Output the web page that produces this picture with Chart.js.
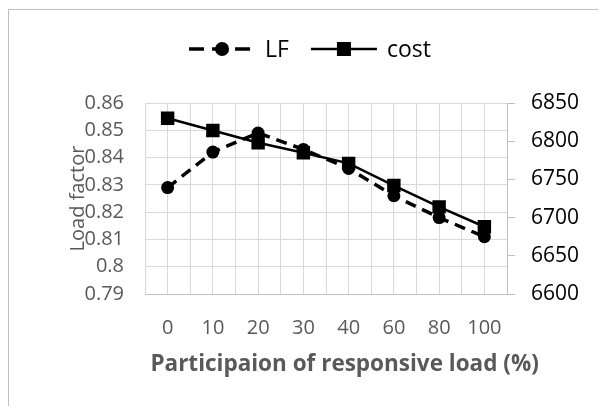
<!DOCTYPE html>
<html>
<head>
<meta charset="utf-8">
<script src="https://cdn.jsdelivr.net/npm/chart.js@4.4.0/dist/chart.umd.min.js"></script>
<style>
  html, body { margin: 0; padding: 0; background: #fff; overflow: hidden; }
  #wrap { position: relative; width: 598px; height: 406px; }
  #moldura { position: absolute; left: 8px; top: 9px; width: 640px; height: 440px; border: 1px solid #bfbfbf; box-sizing: border-box; }
  canvas { position: absolute; left: 0; top: 0; }
</style>
</head>
<body>
<div id="wrap">
  <div id="moldura"></div>
  <canvas id="grafico" width="598" height="406"></canvas>
</div>
<script>
const categorias = ['0', '10', '20', '30', '40', '60', '80', '100'];
const valoresLF = [0.829, 0.842, 0.849, 0.843, 0.836, 0.826, 0.818, 0.811];
const valoresCusto = [6830, 6814, 6798, 6785, 6771, 6742, 6714, 6688];
const limitesLF = [0.79, 0.86];
const limitesCusto = [6600, 6850];

const fonte = '"Open Sans", "Noto Sans", sans-serif';
const cinza = '#595959';
const grade = '#d9d9d9';

// legenda desenhada a mao: linha + marcador + texto
const legendaLinha = {
  id: 'legendaLinha',
  afterDraw(chart) {
    const ctx = chart.ctx;
    const y = 49;
    const compLinha = 66;
    ctx.save();
    ctx.font = '23px ' + fonte;
    const itens = chart.data.datasets;
    let total = 0;
    itens.forEach((d, i) => {
      total += compLinha + 10 + ctx.measureText(d.label).width;
      if (i < itens.length - 1) total += 22;
    });
    let x = chart.width / 2 + 11 - total / 2;
    itens.forEach((d) => {
      ctx.strokeStyle = d.borderColor;
      ctx.lineWidth = d.borderWidth;
      ctx.setLineDash(d.borderDash ? [15, 8] : []);
      ctx.beginPath();
      ctx.moveTo(x, y);
      ctx.lineTo(x + compLinha, y);
      ctx.stroke();
      ctx.setLineDash([]);
      ctx.fillStyle = d.pointBackgroundColor;
      const cx = x + compLinha / 2;
      if (d.pointStyle === 'rect') {
        ctx.fillRect(cx - 7, y - 7, 14, 14);
      } else {
        ctx.beginPath();
        ctx.arc(cx, y, 7, 0, Math.PI * 2);
        ctx.fill();
      }
      ctx.fillStyle = '#000';
      ctx.textBaseline = 'middle';
      ctx.fillText(d.label, x + compLinha + 10, y + 1);
      x += compLinha + 10 + ctx.measureText(d.label).width + 22;
    });
    ctx.restore();
  }
};

new Chart(document.getElementById('grafico'), {
  type: 'line',
  data: {
    labels: categorias,
    datasets: [{
      label: 'LF',
      data: valoresLF,
      yAxisID: 'y',
      borderColor: '#000',
      borderWidth: 3.5,
      borderDash: [11, 7],
      pointStyle: 'circle',
      pointRadius: 6.5,
      pointBackgroundColor: '#000',
      pointBorderWidth: 0,
      tension: 0
    }, {
      label: 'cost',
      data: valoresCusto,
      yAxisID: 'y2',
      borderColor: '#000',
      borderWidth: 2.5,
      pointStyle: 'rect',
      pointRadius: 9.5,
      pointBackgroundColor: '#000',
      pointBorderWidth: 0,
      tension: 0
    }]
  },
  options: {
    responsive: false,
    devicePixelRatio: 1,
    animation: false,
    layout: { padding: { left: 62, top: 103, right: 0, bottom: 22 } },
    plugins: {
      legend: { display: false },
      tooltip: { enabled: false },
      title: {
        display: true,
        position: 'bottom',
        text: ' '.repeat(5) + 'Participaion of responsive load (%)',
        color: cinza,
        font: { family: fonte, size: 22.5, weight: 'bold' },
        padding: { top: 0, bottom: 6 }
      }
    },
    scales: {
      x: {
        type: 'category',
        offset: true,
        grid: { offset: false, color: grade, drawTicks: false },
        border: { display: true, color: '#bfbfbf' },
        ticks: { color: cinza, font: { family: fonte, size: 20 }, padding: 22 },
        afterFit: s => { s.height = 57; }
      },
      // grade nas divisas entre categorias
      x2: {
        type: 'linear',
        position: 'top',
        min: 0,
        max: categorias.length,
        ticks: { display: false, stepSize: 1 },
        grid: { color: grade, drawTicks: false },
        border: { display: false },
        afterFit: s => { s.height = 0; }
      },
      y: {
        position: 'left',
        min: limitesLF[0],
        max: limitesLF[1],
        ticks: {
          stepSize: 0.01,
          color: cinza,
          font: { family: fonte, size: 20 },
          padding: 21,
          callback: v => String(Math.round(v * 100) / 100)
        },
        grid: { color: grade, drawTicks: false },
        border: { display: false },
        title: {
          display: true,
          text: 'Load factor',
          color: cinza,
          font: { family: fonte, size: 20 },
          padding: { top: 4, bottom: 0 }
        },
        afterFit: s => { s.width = 83; }
      },
      y2: {
        position: 'right',
        min: limitesCusto[0],
        max: limitesCusto[1],
        ticks: {
          stepSize: 50,
          color: '#000',
          font: { family: fonte, size: 21 },
          padding: 16,
          callback: v => String(v)
        },
        grid: { drawOnChartArea: false, color: '#bfbfbf', tickLength: 8 },
        border: { display: true, color: '#bfbfbf' },
        afterFit: s => { s.width = 91; }
      }
    }
  },
  plugins: [legendaLinha]
});
</script>
</body>
</html>
